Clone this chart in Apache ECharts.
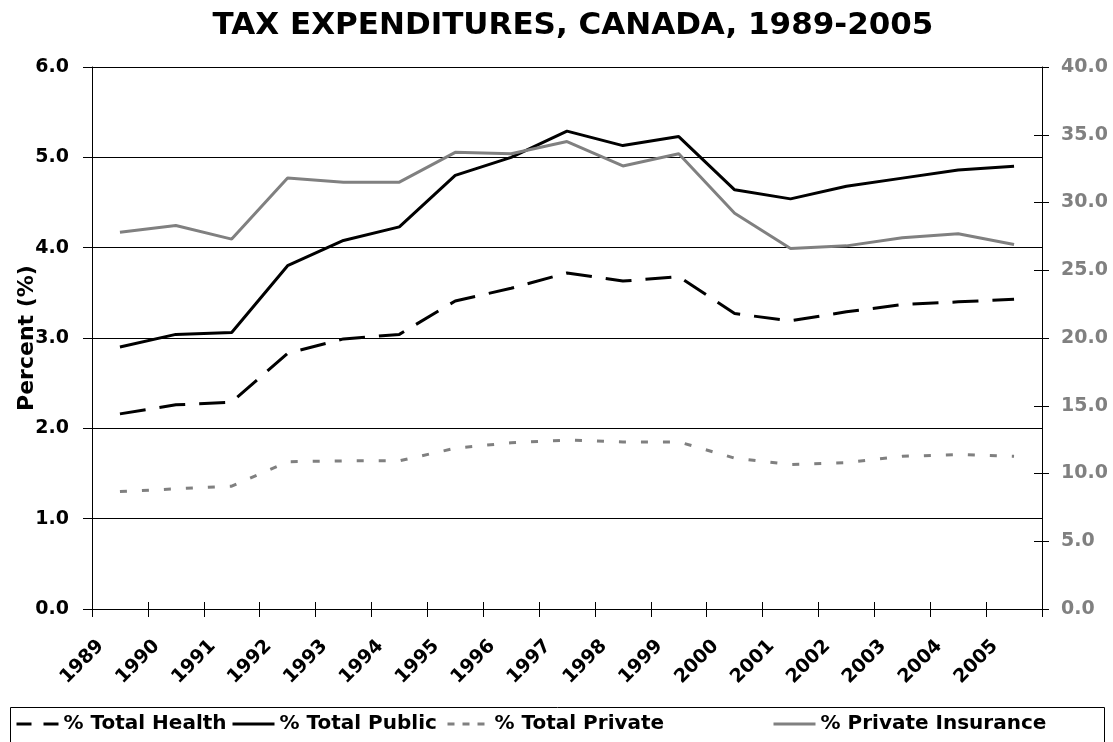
<!DOCTYPE html>
<html>
<head>
<meta charset="utf-8">
<script src="https://cdn.jsdelivr.net/npm/echarts@6/dist/echarts.min.js"></script>
<style>
html,body{margin:0;padding:0;background:#fff;}
#chart{width:1113px;height:742px;}
</style>
</head>
<body>
<div id="chart"></div>
<script>
const years = ['1989','1990','1991','1992','1993','1994','1995','1996','1997','1998','1999','2000','2001','2002','2003','2004','2005'];
const totalHealth = [2.16, 2.26, 2.29, 2.83, 2.99, 3.04, 3.41, 3.55, 3.72, 3.63, 3.68, 3.27, 3.19, 3.29, 3.37, 3.40, 3.43];
const totalPublic = [2.90, 3.04, 3.06, 3.80, 4.08, 4.23, 4.80, 5.00, 5.29, 5.13, 5.23, 4.64, 4.54, 4.68, 4.77, 4.86, 4.90];
const totalPrivate = [1.30, 1.33, 1.36, 1.63, 1.64, 1.64, 1.78, 1.84, 1.87, 1.85, 1.85, 1.67, 1.60, 1.62, 1.69, 1.71, 1.69];
const privateInsurance = [27.8, 28.3, 27.3, 31.8, 31.5, 31.5, 33.7, 33.6, 34.5, 32.7, 33.6, 29.2, 26.6, 26.8, 27.4, 27.7, 26.9];
const seriesNames = ['% Total Health', '% Total Public', '% Total Private', '% Private Insurance'];

const FONT = 'DejaVu Sans';
const GREY = '#808080';
const chart = echarts.init(document.getElementById('chart'), null, {renderer: 'canvas'});

const legendPos = [15, 231, 446, 772];
const legendDash = [[15, 12], 'solid', [7, 8], 'solid'];
const legends = seriesNames.map((n, i) => ({
  data: [{name: n, lineStyle: {type: legendDash[i], width: 3}}],
  left: legendPos[i], top: 714, padding: 0,
  itemWidth: 42, itemHeight: 14,
  itemStyle: {color: 'rgba(0,0,0,0)', borderWidth: 0, opacity: 0},
  selectedMode: false,
  textStyle: {fontFamily: FONT, fontWeight: 'bold', fontSize: 20, color: '#000'}
}));

chart.setOption({
  animation: false,
  backgroundColor: '#fff',
  title: {
    text: 'TAX EXPENDITURES, CANADA, 1989-2005',
    left: 568, top: 5, textAlign: 'center',
    textStyle: {fontFamily: FONT, fontWeight: 'bold', fontSize: 31, color: '#000'}
  },
  graphic: [{
    type: 'rect', silent: true,
    shape: {x: 10.5, y: 707.5, width: 1094, height: 60},
    style: {fill: 'none', stroke: '#000', lineWidth: 1}
  }],
  grid: {left: 92, right: 71, top: 67, bottom: 133, containLabel: false},
  legend: legends,
  xAxis: [{
    type: 'category', data: years, boundaryGap: true, position: 'bottom',
    axisLine: {lineStyle: {color: '#000', width: 1}},
    axisTick: {show: true, length: 8, lineStyle: {color: '#000'}},
    axisLabel: {rotate: 45, interval: 0, margin: 15, padding: [0, 27, 0, 0],
      fontFamily: FONT, fontWeight: 'bold', fontSize: 19, color: '#000'},
    splitLine: {show: false}
  }, {
    type: 'category', data: years, boundaryGap: true, position: 'bottom', offset: 0,
    axisLine: {show: false},
    axisTick: {show: true, inside: true, length: 7, lineStyle: {color: '#000'}},
    axisLabel: {show: false},
    splitLine: {show: false}
  }],
  yAxis: [{
    type: 'value', min: 0, max: 6, interval: 1, position: 'left',
    name: 'Percent (%)', nameLocation: 'middle', nameGap: 54, nameRotate: 90, nameMoveOverlap: false,
    nameTextStyle: {fontFamily: FONT, fontWeight: 'bold', fontSize: 22, color: '#000'},
    axisLine: {show: true, lineStyle: {color: '#000'}},
    axisTick: {show: true, length: 9, lineStyle: {color: '#000'}},
    axisLabel: {margin: 23, formatter: v => v.toFixed(1),
      fontFamily: FONT, fontWeight: 'bold', fontSize: 19, color: '#000'},
    splitLine: {show: true, lineStyle: {color: '#000', width: 1}}
  }, {
    type: 'value', min: 0, max: 40, interval: 5, position: 'right',
    axisLine: {show: true, lineStyle: {color: '#000'}},
    axisTick: {show: true, length: 7, lineStyle: {color: '#000'}},
    axisLabel: {margin: 19, formatter: v => v.toFixed(1),
      fontFamily: FONT, fontWeight: 'bold', fontSize: 19, color: GREY},
    splitLine: {show: false}
  }, {
    type: 'value', min: 0, max: 40, interval: 5, position: 'right', offset: 0,
    axisLine: {show: false},
    axisTick: {show: true, inside: true, length: 8, lineStyle: {color: '#000'}},
    axisLabel: {show: false},
    splitLine: {show: false}
  }],
  series: [{
    name: seriesNames[0], type: 'line', data: totalHealth, xAxisIndex: 0, yAxisIndex: 0,
    symbol: 'none', lineStyle: {color: '#000', width: 3, type: [26, 14]}, itemStyle: {color: '#000'}
  }, {
    name: seriesNames[1], type: 'line', data: totalPublic, xAxisIndex: 0, yAxisIndex: 0,
    symbol: 'none', lineStyle: {color: '#000', width: 3, type: 'solid'}, itemStyle: {color: '#000'}
  }, {
    name: seriesNames[2], type: 'line', data: totalPrivate, xAxisIndex: 0, yAxisIndex: 0,
    symbol: 'none', lineStyle: {color: GREY, width: 3, type: [7, 15]}, itemStyle: {color: GREY}
  }, {
    name: seriesNames[3], type: 'line', data: privateInsurance, xAxisIndex: 0, yAxisIndex: 1,
    symbol: 'none', lineStyle: {color: GREY, width: 3, type: 'solid'}, itemStyle: {color: GREY}
  }]
});
</script>
</body>
</html>
